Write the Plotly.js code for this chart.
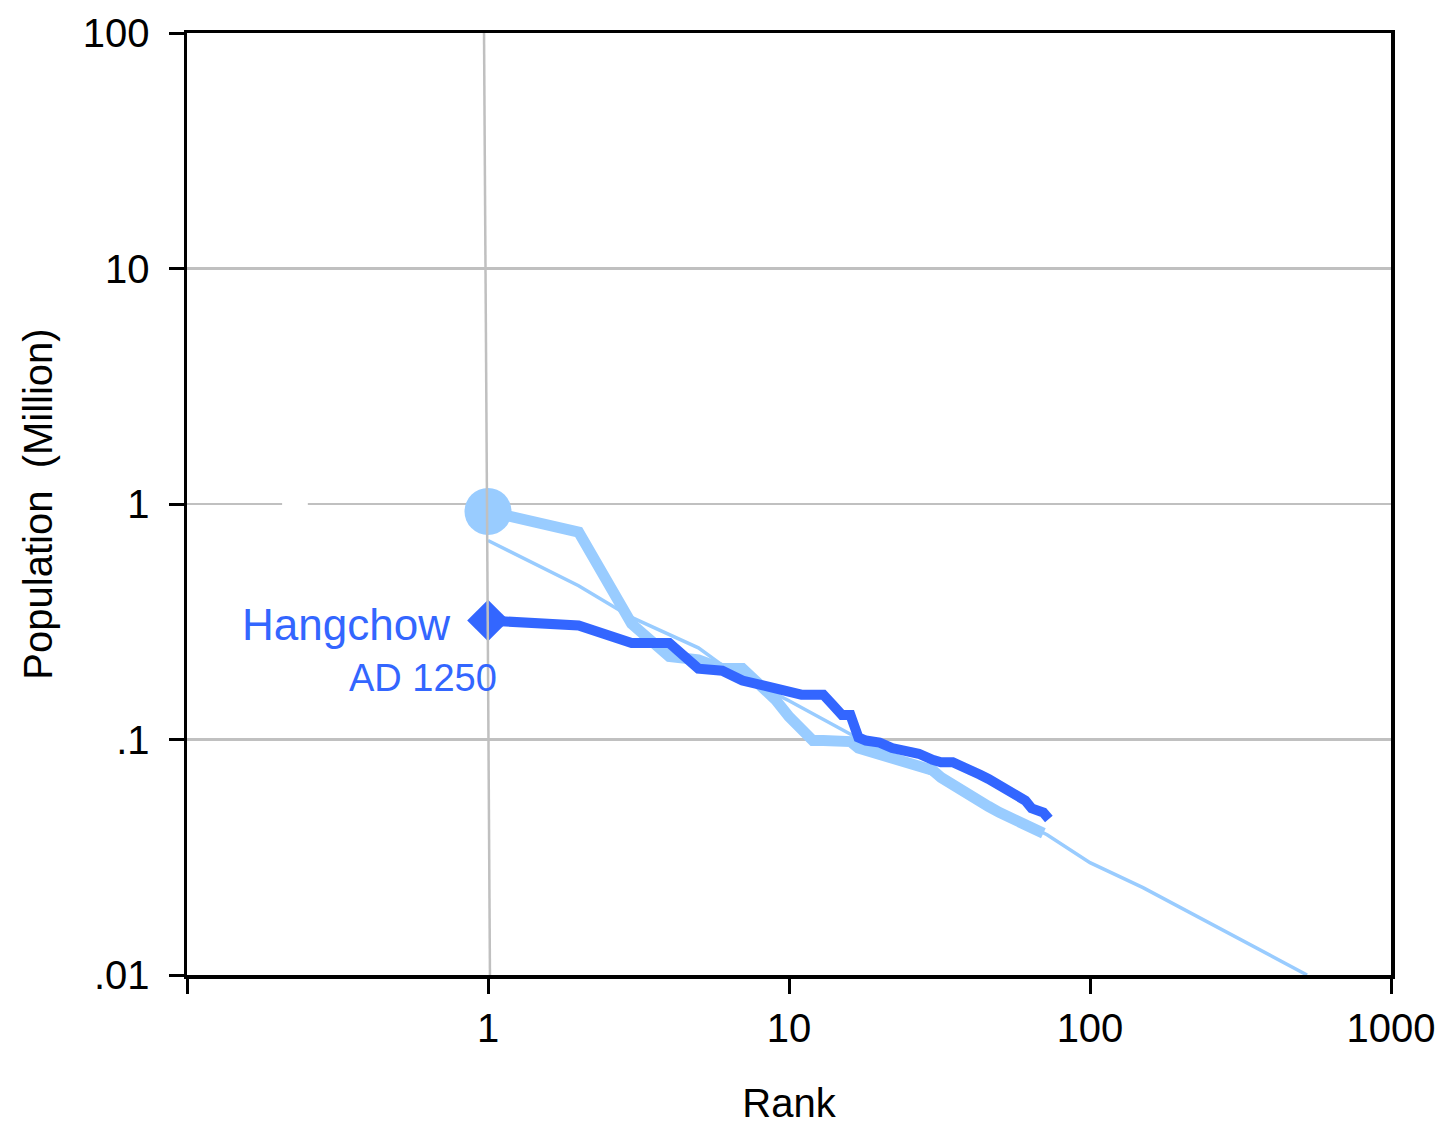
<!DOCTYPE html>
<html>
<head>
<meta charset="utf-8">
<script src="https://cdn.plot.ly/plotly-3.0.1.min.js"></script>
<style>
  html, body { margin: 0; padding: 0; background: #ffffff; }
  #chart { width: 1439px; height: 1125px; }
</style>
</head>
<body>
<div id="chart"></div>
<script>
// ---- Data ----
// Hangchow, AD 1250: city rank vs population (million)
const rankHangchow = [1,2,3,4,5,6,7,8,9,10,11,12,13,14,15,16,17,18,19,20,22,25,27,30,32,35,38,40,43,46,49,52,55,58,61,64,67,70,73];
const popHangchow  = [0.32,0.305,0.257,0.257,0.20,0.196,0.178,0.170,0.163,0.160,0.155,0.155,0.155,0.14,0.127,0.127,0.102,0.099,0.098,0.097,0.092,0.090,0.087,0.082,0.080,0.080,0.077,0.075,0.071,0.068,0.065,0.063,0.060,0.058,0.055,0.051,0.050,0.049,0.046];

// Comparison series (light blue, thick)
const rankLight = [1,2,3,4,5,6,7,8,9,10,11,12,13,14,15,16,17,18,20,22,25,28,30,32,35,40,43,46,50,55,60,65,70];
const popLight  = [0.93,0.76,0.31,0.225,0.218,0.20,0.20,0.172,0.148,0.125,0.11,0.099,0.099,0.099,0.099,0.098,0.092,0.09,0.0875,0.084,0.08,0.076,0.074,0.069,0.064,0.058,0.055,0.052,0.049,0.046,0.044,0.042,0.040];

// Reference rank-size line (light blue, thin)
const rankFit = [1,2,3,4,5,6,8,10,17,30,50,72,100,150,250,526];
const popFit  = [0.70,0.45,0.33,0.28,0.245,0.207,0.169,0.146,0.101,0.071,0.050,0.0394,0.030,0.0235,0.0166,0.010];

// Axis ticks
const xTickVals = [0.1, 1, 10, 100, 1000];
const xTickText = ['', '1', '10', '100', '1000'];
const yTickVals = [0.01, 0.1, 1, 10, 100];
const yTickText = ['.01', '.1', '1', '10', '100'];

// Decorations seen in the reference: slanted grey rule at rank 1, gap in the 1-million gridline
const rankRuleX = [0.97, 1.015];
const rankRuleY = [100, 0.01];
const gapX = [0.207, 0.252];
const gapY = [1, 1];

// Labels
const seriesLabel = 'Hangchow';
const seriesSubLabel = 'AD 1250';

const DARK = '#3366ff';
const LIGHT = '#99ccff';
const GRID = '#c0c0c0';
const FONT = 'Liberation Sans, Arial, Helvetica, sans-serif';

const traces = [
  { x: gapX, y: gapY, mode: 'lines', line: { color: '#ffffff', width: 6 }, hoverinfo: 'skip' },
  { x: rankFit, y: popFit, mode: 'lines', line: { color: LIGHT, width: 3.5 } },
  { x: rankLight, y: popLight, mode: 'lines', line: { color: LIGHT, width: 11 } },
  { x: [rankLight[0]], y: [popLight[0]], mode: 'markers', marker: { color: LIGHT, size: 47, symbol: 'circle' } },
  { x: rankHangchow, y: popHangchow, mode: 'lines', line: { color: DARK, width: 10 } },
  { x: [rankHangchow[0]], y: [popHangchow[0]], mode: 'markers', marker: { color: DARK, size: 32, symbol: 'diamond' } },
  { x: rankRuleX, y: rankRuleY, mode: 'lines', line: { color: GRID, width: 2.5 }, hoverinfo: 'skip' }
];

const layout = {
  width: 1439,
  height: 1125,
  margin: { l: 187, r: 48, t: 33, b: 150 },
  paper_bgcolor: '#ffffff',
  plot_bgcolor: '#ffffff',
  showlegend: false,
  font: { family: FONT, size: 40, color: '#000000' },
  xaxis: {
    type: 'log',
    range: [-1, 3],
    showline: true, linecolor: '#000000', linewidth: 3.5, mirror: true,
    ticks: 'outside', ticklen: 15, tickwidth: 3, tickcolor: '#000000',
    tickvals: xTickVals, ticktext: xTickText,
    tickfont: { family: FONT, size: 40, color: '#000000' },
    ticklabelstandoff: 0,
    showgrid: false, zeroline: false,
    title: { text: 'Rank', font: { family: FONT, size: 40, color: '#000000' }, standoff: 41 }
  },
  yaxis: {
    type: 'log',
    range: [-2, 2],
    showline: true, linecolor: '#000000', linewidth: 3.5, mirror: true,
    ticks: 'outside', ticklen: 15, tickwidth: 3, tickcolor: '#000000',
    tickvals: yTickVals, ticktext: yTickText,
    tickfont: { family: FONT, size: 40, color: '#000000' },
    ticklabelstandoff: 11,
    showgrid: true, gridcolor: GRID, gridwidth: 2.5,
    zeroline: false,
    title: { text: 'Population\u00a0 (Million)', font: { family: FONT, size: 40, color: '#000000' }, standoff: 19 }
  },
  annotations: [
    { xref: 'paper', yref: 'paper', x: 0.2200, y: 0.3726, xanchor: 'right', yanchor: 'middle',
      text: seriesLabel, showarrow: false, font: { family: FONT, size: 44, color: DARK } },
    { xref: 'paper', yref: 'paper', x: 0.2590, y: 0.3153, xanchor: 'right', yanchor: 'middle',
      text: seriesSubLabel, showarrow: false, font: { family: FONT, size: 38, color: DARK } }
  ]
};

Plotly.newPlot('chart', traces, layout, { displayModeBar: false, staticPlot: true });
</script>
</body>
</html>
